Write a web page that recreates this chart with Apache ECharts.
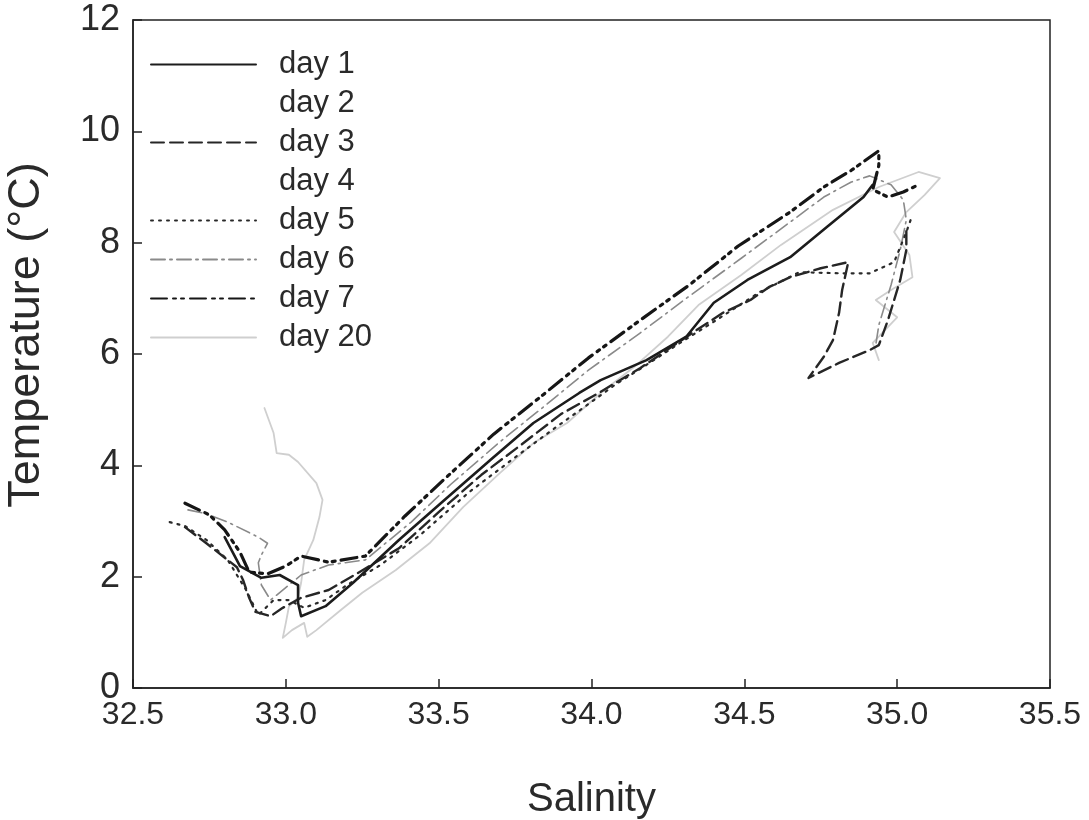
<!DOCTYPE html>
<html>
<head>
<meta charset="utf-8">
<script src="https://cdn.jsdelivr.net/npm/echarts@6/dist/echarts.min.js"></script>
<style>
  html, body { margin: 0; padding: 0; background: #ffffff; }
  #chart { width: 1089px; height: 820px; }
</style>
</head>
<body>
<div id="chart"></div>
<script>
// T-S profiles: [salinity, temperature (°C)] per cast day
const day1 = [[32.80,2.71],[32.85,2.19],[32.92,1.98],[32.98,2.03],[33.04,1.85],[33.04,1.53],[33.05,1.29],[33.13,1.47],[33.22,1.89],[33.37,2.66],[33.52,3.38],[33.67,4.10],[33.81,4.76],[33.96,5.30],[34.03,5.53],[34.18,5.89],[34.31,6.31],[34.40,6.92],[34.51,7.33],[34.65,7.74],[34.77,8.28],[34.89,8.82],[34.92,9.04]];
const day2 = [];
const day3 = [[32.67,2.89],[32.74,2.60],[32.84,2.17],[32.86,1.94],[32.88,1.62],[32.90,1.37],[32.95,1.29],[32.99,1.44],[33.05,1.62],[33.14,1.76],[33.24,2.08],[33.37,2.51],[33.50,3.16],[33.64,3.83],[33.77,4.37],[33.90,4.92],[34.03,5.32],[34.16,5.75],[34.33,6.38],[34.43,6.74],[34.52,6.97],[34.58,7.20],[34.65,7.38],[34.75,7.54],[34.84,7.65],[34.82,7.15],[34.81,6.74],[34.79,6.25],[34.76,5.95],[34.71,5.57],[34.81,5.84],[34.91,6.07],[34.94,6.16],[34.97,6.61],[34.99,6.97],[35.01,7.33],[35.03,7.87],[35.03,8.23]];
const day4 = [];
const day5 = [[32.62,2.98],[32.67,2.91],[32.74,2.66],[32.81,2.30],[32.87,1.76],[32.91,1.31],[32.96,1.58],[33.01,1.58],[33.06,1.44],[33.13,1.58],[33.20,1.85],[33.31,2.21],[33.44,2.75],[33.60,3.52],[33.73,4.06],[33.87,4.63],[33.99,5.10],[34.08,5.46],[34.17,5.77],[34.29,6.20],[34.42,6.65],[34.55,7.11],[34.68,7.47],[34.81,7.45],[34.91,7.45],[34.99,7.65],[35.03,8.19],[35.05,8.50]];
const day6 = [[32.68,3.20],[32.74,3.13],[32.81,2.98],[32.91,2.71],[32.94,2.60],[32.92,2.39],[32.91,2.25],[32.92,1.85],[32.95,1.58],[33.01,1.85],[33.05,2.03],[33.14,2.21],[33.26,2.30],[33.41,2.98],[33.54,3.66],[33.70,4.42],[33.85,5.08],[33.99,5.71],[34.16,6.38],[34.32,7.04],[34.49,7.72],[34.65,8.37],[34.76,8.82],[34.85,9.09],[34.91,9.20],[34.98,9.04],[35.02,8.77],[35.03,8.41],[35.01,7.87],[34.98,7.24],[34.94,6.52],[34.93,6.16]];
const day7 = [[32.67,3.32],[32.75,3.11],[32.80,2.84],[32.85,2.44],[32.88,2.08],[32.94,2.05],[33.00,2.19],[33.05,2.37],[33.14,2.26],[33.26,2.37],[33.39,3.09],[33.53,3.81],[33.68,4.56],[33.84,5.26],[33.99,5.93],[34.16,6.61],[34.32,7.24],[34.48,7.94],[34.65,8.55],[34.76,9.00],[34.85,9.30],[34.94,9.65],[34.94,9.39],[34.92,8.95],[34.97,8.82],[35.02,8.91],[35.07,9.04]];
const day20 = [[32.93,5.03],[32.96,4.58],[32.97,4.22],[33.01,4.19],[33.04,4.06],[33.10,3.68],[33.12,3.38],[33.11,3.07],[33.09,2.66],[33.06,2.30],[33.05,1.89],[33.04,1.63],[33.01,1.46],[33.00,1.17],[32.99,0.90],[33.02,1.04],[33.06,1.17],[33.07,0.92],[33.10,1.04],[33.18,1.40],[33.25,1.71],[33.36,2.12],[33.47,2.60],[33.58,3.25],[33.70,3.86],[33.81,4.40],[33.92,4.76],[34.03,5.30],[34.14,5.77],[34.25,6.31],[34.35,6.88],[34.49,7.42],[34.62,7.96],[34.79,8.59],[34.94,9.00],[35.07,9.27],[35.14,9.16],[35.09,8.86],[35.03,8.55],[34.99,8.19],[35.04,7.78],[35.05,7.38],[34.98,7.15],[34.93,6.97],[35.00,6.66],[34.92,6.20],[34.94,5.89]];

const dayNames = ['day 1', 'day 2', 'day 3', 'day 4', 'day 5', 'day 6', 'day 7', 'day 20'];
const dayData = [day1, day2, day3, day4, day5, day6, day7, day20];

// Salinity and temperature axis ticks
const salinityTicks = [32.5, 33.0, 33.5, 34.0, 34.5, 35.0, 35.5];
const temperatureTicks = [0, 2, 4, 6, 8, 10, 12];

const FONT = 'Liberation Sans, Arial, sans-serif';

// Line look for each day, in legend order
const lineLooks = [
  { color: '#1c1c1c', width: 2.6, type: 'solid', z: 4 },
  { color: '#ffffff', width: 2, type: 'solid', z: 1 },
  { color: '#262626', width: 2.4, type: [13, 6], z: 3 },
  { color: '#ffffff', width: 2, type: 'solid', z: 1 },
  { color: '#2a2a2a', width: 2.2, type: [2, 6], z: 3 },
  { color: '#8a8a8a', width: 1.6, type: [14, 5, 2, 5], z: 2 },
  { color: '#161616', width: 3.2, type: [16, 6, 3, 5, 3, 6], z: 5 },
  { color: '#cfcfcf', width: 1.8, type: 'solid', z: 1 }
];

const series = dayNames.map((name, i) => ({
  name: name,
  type: 'line',
  data: dayData[i],
  symbol: 'none',
  showSymbol: false,
  smooth: false,
  z: lineLooks[i].z,
  silent: true,
  animation: false,
  lineStyle: {
    color: lineLooks[i].color,
    width: lineLooks[i].width,
    type: lineLooks[i].type,
    cap: 'round',
    join: 'round'
  },
  itemStyle: { color: lineLooks[i].color }
}));

const chart = echarts.init(document.getElementById('chart'), null, { renderer: 'canvas' });
chart.setOption({
  backgroundColor: '#ffffff',
  animation: false,
  grid: {
    left: 133, right: 39, top: 20, bottom: 132,
    outerBoundsMode: 'none',
    containLabel: false,
    show: true, borderColor: '#222222', borderWidth: 1.5, backgroundColor: 'transparent'
  },
  legend: {
    data: dayNames,
    orient: 'vertical',
    left: 145, top: 44,
    itemWidth: 105, itemHeight: 20, itemGap: 8,
    selectedMode: false,
    itemStyle: { opacity: 0 },
    textStyle: { fontFamily: FONT, fontSize: 31, color: '#2a2a2a', padding: [0, 0, 0, 18] }
  },
  xAxis: {
    type: 'value',
    min: salinityTicks[0], max: salinityTicks[salinityTicks.length - 1], interval: 0.5,
    name: 'Salinity', nameLocation: 'middle', nameGap: 92,
    nameTextStyle: { fontFamily: FONT, fontSize: 40, color: '#2a2a2a' },
    axisLine: { lineStyle: { color: '#222222', width: 1.5 } },
    axisTick: { inside: true, length: 9, lineStyle: { color: '#222222', width: 1.5 } },
    axisLabel: { fontFamily: FONT, fontSize: 32, color: '#2a2a2a', margin: 11,
      formatter: v => v.toFixed(1) },
    splitLine: { show: false }
  },
  yAxis: {
    type: 'value',
    min: temperatureTicks[0], max: temperatureTicks[temperatureTicks.length - 1], interval: 2,
    name: 'Temperature (°C)', nameLocation: 'middle', nameGap: 84,
    nameTextStyle: { fontFamily: FONT, fontSize: 45, color: '#2a2a2a', padding: [0, 0, 0, 38] },
    axisLine: { lineStyle: { color: '#222222', width: 1.5 } },
    axisTick: { inside: true, length: 9, lineStyle: { color: '#222222', width: 1.5 } },
    axisLabel: { fontFamily: FONT, fontSize: 36, color: '#2a2a2a', margin: 13 },
    splitLine: { show: false }
  },
  series: series
});
</script>
</body>
</html>
